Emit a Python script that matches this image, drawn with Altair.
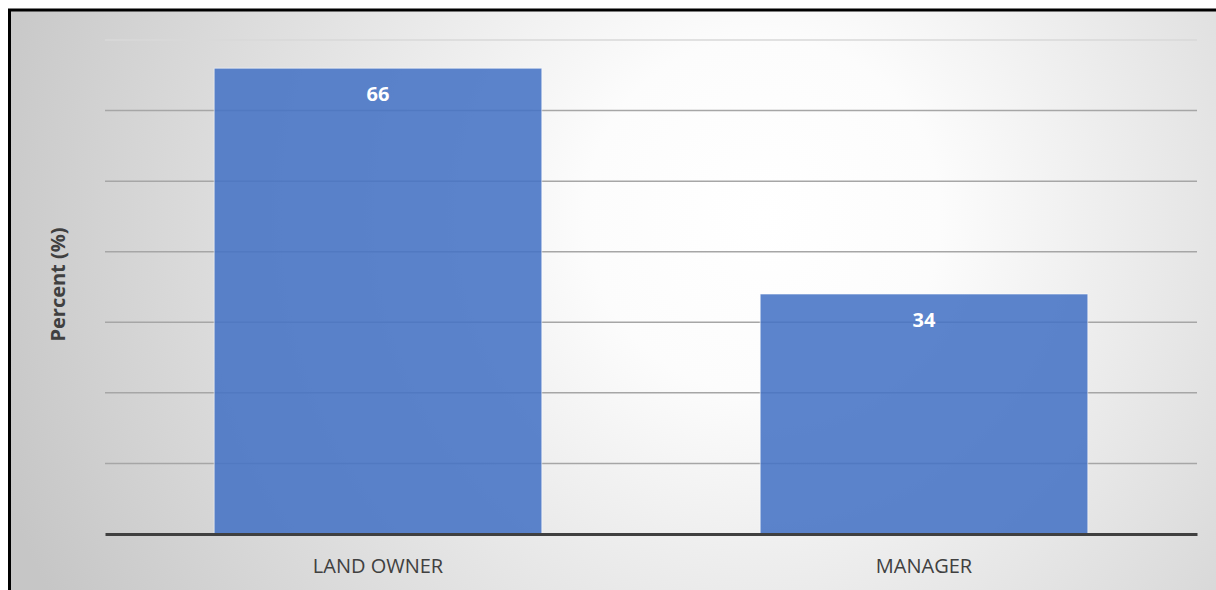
import altair as alt
import pandas as pd

categories = ["LAND OWNER", "MANAGER"]
values = [66, 34]
grid_values = [10, 20, 30, 40, 50, 60, 70]

bars_df = pd.DataFrame({"cat": categories, "val": values})
grid_df = pd.DataFrame({"val": grid_values})
bg_df = pd.DataFrame({"a": [0]})

FONT = "Open Sans"

gradient = alt.RadialGradient(
    gradient="radial",
    stops=[
        alt.GradientStop(color="#ffffff", offset=0),
        alt.GradientStop(color="#fcfcfc", offset=0.22),
        alt.GradientStop(color="#c6c6c6", offset=1),
    ],
    x1=0.56, y1=0.4, x2=0.56, y2=0.4, r1=0, r2=0.6,
)

bg = alt.Chart(bg_df).mark_rect(fill=gradient, stroke="black", strokeWidth=3).encode(
    x=alt.value(-95.5), x2=alt.value(1250), y=alt.value(-30), y2=alt.value(650)
)

y_scale = alt.Scale(domain=[0, 70], nice=False)

y_axis = alt.Axis(
    title="Percent (%)",
    labels=False,
    ticks=False,
    domain=False,
    grid=False,
    titleFont=FONT,
    titleFontSize=20,
    titleFontWeight="bold",
    titleColor="#404040",
    titleAngle=270,
    titleX=-47,
    titleY=244,
    titleAlign="center",
    titleBaseline="middle",
    zindex=1,
)

y_enc = alt.Y("val:Q", scale=y_scale, axis=y_axis, title="Percent (%)")

x_enc = alt.X(
    "cat:N",
    sort=categories,
    scale=alt.Scale(paddingInner=0.4, paddingOuter=0.2),
    axis=alt.Axis(
        title=None,
        ticks=False,
        labelAngle=0,
        labelFont=FONT,
        labelFontSize=20,
        labelColor="#404040",
        labelPadding=22,
        labelBaseline="top",
        domainColor="#404040",
        domainWidth=3,
        grid=False,
        zindex=1,
    ),
)

grid = alt.Chart(grid_df).mark_rule(strokeWidth=1.5).encode(
    y=y_enc,
    color=alt.condition(alt.datum.val == 70, alt.value("#d8d8d8"), alt.value("#a6a6a6")),
)

base = alt.Chart(bars_df)

bars = base.mark_bar(
    color="#4472C4", fillOpacity=0.87, stroke="#ffffff", strokeOpacity=0.55, strokeWidth=1
).encode(x=x_enc, y=y_enc)

labels = base.mark_text(
    color="white", font=FONT, fontSize=20, fontWeight="bold", baseline="middle", align="center", dy=27
).encode(x=x_enc, y=y_enc, text="val:Q")

chart = alt.layer(bg, grid, bars, labels).properties(
    width=1092,
    height=494,
    autosize=alt.AutoSizeParams(type="none"),
    padding={"left": 105, "top": 40, "right": 19, "bottom": 56},
    background="white",
).configure_view(stroke=None)

chart.save("out.html", embed_options={"renderer": "svg", "actions": False})
